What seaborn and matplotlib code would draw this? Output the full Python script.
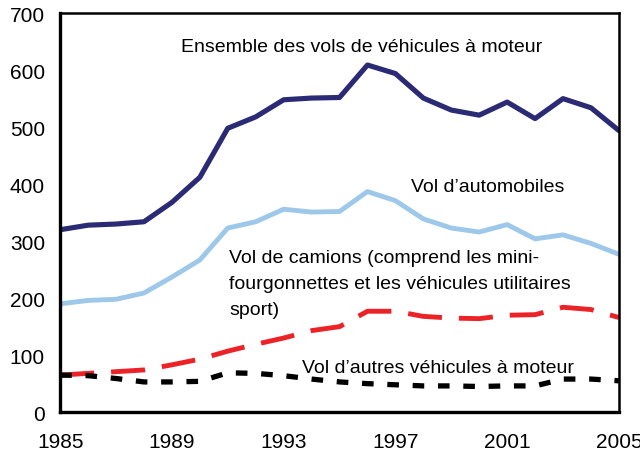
import numpy as np
import pandas as pd
import matplotlib
matplotlib.use("Agg")
import matplotlib.pyplot as plt
import seaborn as sns

years = list(range(1985, 2006))
total = [320, 328, 330, 334, 368, 412, 498, 518, 548, 551, 552, 609, 594, 551, 530, 521, 544, 515, 550, 534, 494]
autos = [190, 196, 198, 209, 237, 267, 323, 334, 356, 351, 352, 387, 371, 339, 323, 316, 329, 304, 311, 296, 277]
camions = [65, 68, 71, 74, 83, 93, 107, 119, 130, 143, 150, 177, 177, 168, 165, 164, 170, 171, 184, 180, 166]
autres = [65, 64, 59, 53, 53, 54, 69, 68, 64, 58, 53, 50, 48, 46, 46, 45, 46, 46, 58, 58, 55]

xlabels = [1985, 1989, 1993, 1997, 2001, 2005]

sns.set_style("white")
plt.rcParams['font.family'] = ['Liberation Sans', 'DejaVu Sans']

fig = plt.figure(figsize=(6.4, 4.56), dpi=100)
ax = fig.add_axes([0.094, 0.094, 0.873, 0.875])

sns.lineplot(x=years, y=total, color='#2b2a74', lw=3.7, ax=ax)
sns.lineplot(x=years, y=autos, color='#9dc8ea', lw=3.5, ax=ax)
sns.lineplot(x=years, y=camions, color='#ec2227', lw=3.5, linestyle=(0, (7, 3.5)), ax=ax)
sns.lineplot(x=years, y=autres, color='black', lw=3.8, linestyle=(0, (2.2, 2.6)), ax=ax)

ax.set_xlim(1985, 2005)
ax.set_ylim(0, 700)
ax.set_xticks(years)
ax.set_xticklabels([str(y) if y in xlabels else '' for y in years])
ax.set_yticks(range(0, 701, 100))
ax.tick_params(axis='both', direction='in', length=6, width=2, labelsize=15, colors='black')
ax.tick_params(axis='y', pad=11)
ax.tick_params(axis='x', pad=14)
for s in ['left', 'bottom']:
    ax.spines[s].set_linewidth(2.4)
for s in ['top', 'right']:
    ax.spines[s].set_linewidth(1.8)
for s in ax.spines.values():
    s.set_color('black')

fs = 14
ax.text(1995.8, 642, "Ensemble des vols de véhicules à moteur", ha='center', va='center', fontsize=fs, color='black')
ax.text(1997.55, 395, "Vol d\u2019automobiles", ha='left', va='center', fontsize=fs, color='black')
ax.text(1991.05, 287, "Vol de camions (comprend les mini-\nfourgonnettes et les véhicules utilitaires\nsport)",
        ha='left', va='top', fontsize=fs, linespacing=1.7, color='black')
ax.text(1993.65, 79, "Vol d\u2019autres véhicules à moteur", ha='left', va='center', fontsize=fs, color='black')

fig.savefig("out.png", dpi=100)
